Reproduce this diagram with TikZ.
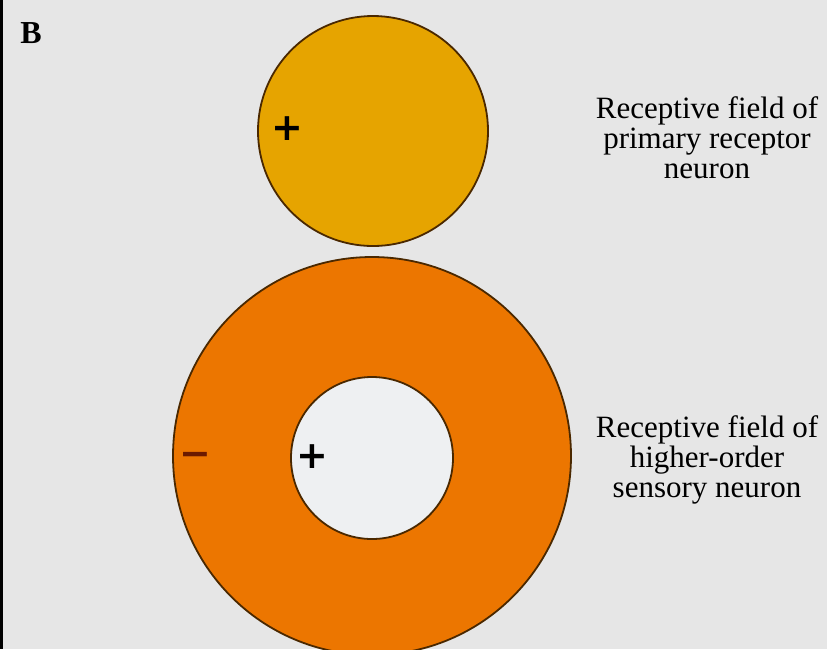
\documentclass[tikz,border=0pt]{standalone}
\usepackage{fontspec}
\setmainfont{Liberation Serif}
\newfontfamily\signfont{DejaVu Sans}
\usepackage{tikz}
\usetikzlibrary{positioning}
\definecolor{bgcolor}{HTML}{E6E6E6}
\definecolor{primcolor}{HTML}{E6A400}
\definecolor{highcolor}{HTML}{EC7600}
\definecolor{holecolor}{HTML}{EEF0F2}
\definecolor{rimcolor}{HTML}{4A2800}
\definecolor{minuscolor}{HTML}{6B1A00}

\begin{document}
\begin{tikzpicture}[
    x=1pt, y=-1pt,
    field/.style={circle, draw=rimcolor, line width=1.8pt, inner sep=0pt},
    lf/.style={font=\fontsize{31}{30}\selectfont, align=center, inner sep=0pt},
    sgn/.style={font=\signfont\bfseries\fontsize{38}{38}\selectfont, inner sep=0pt}
  ]
    \useasboundingbox (0,0) rectangle (827,649);
    \clip (0,0) rectangle (827,649);
    \fill[bgcolor] (0,0) rectangle (827,649);
    \draw[line width=3pt] (1.5,0) -- (1.5,649);
    \node[font=\bfseries\fontsize{32}{32}\selectfont, inner sep=0pt] (panel) at (31,33) {B};
    % primary receptor neuron
    \node[field, fill=primcolor, minimum size=230pt] (prim) at (373,131) {};
    \node[sgn] (pplus) at (287,129) {+};
    \node[lf] (plabel) at (707,138) {Receptive field of\\primary receptor\\neuron};
    % higher-order sensory neuron
    \node[field, fill=highcolor, minimum size=398pt] (high) at (372,456) {};
    \node[field, fill=holecolor, minimum size=162pt] (hole) at (372,458) {};
    \node[sgn, text=minuscolor] (hminus) at (195,459) {−};
    \node[sgn] (hplus) at (312,457) {+};
    \node[lf] (hlabel) at (707,460) {Receptive field of\\higher-order\\sensory neuron};
  \end{tikzpicture}
\end{document}
